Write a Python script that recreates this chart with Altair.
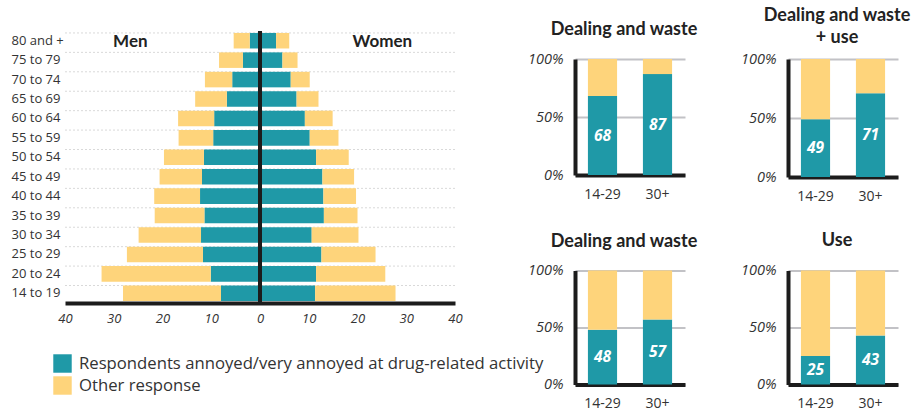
import altair as alt
import pandas as pd

# ---------------- data ----------------
ages = ["80 and +", "75 to 79", "70 to 74", "65 to 69", "60 to 64", "55 to 59",
        "50 to 54", "45 to 49", "40 to 44", "35 to 39", "30 to 34", "25 to 29",
        "20 to 24", "14 to 19"]
men_annoyed = [2.1, 3.5, 5.7, 6.8, 9.4, 9.6, 11.5, 11.9, 12.3, 11.4, 12.1, 11.7, 10.1, 8.0]
men_other = [3.3, 4.9, 5.6, 6.5, 7.4, 7.1, 8.2, 8.7, 9.4, 10.2, 12.8, 15.6, 22.4, 20.1]
women_annoyed = [3.3, 4.6, 6.3, 7.5, 9.2, 10.2, 11.5, 12.8, 13.0, 13.1, 10.6, 12.6, 11.5, 11.3]
women_other = [2.7, 3.1, 3.9, 4.5, 5.7, 5.9, 6.7, 6.5, 6.7, 6.9, 9.6, 11.1, 14.2, 16.5]
x_ticks = [-40, -30, -20, -10, 0, 10, 20, 30, 40]

panel_titles = ["Dealing and waste", ["Dealing and waste", "+ use"], "Dealing and waste", "Use"]
age_groups = ["14-29", "30+"]
panel_annoyed = [[68, 87], [49, 71], [48, 57], [25, 43]]

resp_labels = ["Respondents annoyed/very annoyed at drug-related activity", "Other response"]
colors = ["#1f99a7", "#fed47b"]
sex_labels = ["Men", "Women"]

FONT = "Open Sans"
TFONT = "Lato"
TXT = "#333333"
BLACK = "#1c1c1c"

# ---------------- pyramid ----------------
rows = []
for i, a in enumerate(ages):
    ma, mo = men_annoyed[i], men_other[i]
    wa, wo = women_annoyed[i], women_other[i]
    rows.append(dict(age=a, resp=resp_labels[0], x0=0, x1=-ma))
    rows.append(dict(age=a, resp=resp_labels[1], x0=-ma, x1=-(ma + mo)))
    rows.append(dict(age=a, resp=resp_labels[0], x0=0, x1=wa))
    rows.append(dict(age=a, resp=resp_labels[1], x0=wa, x1=wa + wo))
pyr = pd.DataFrame(rows)
grid_df = pd.DataFrame({"age": ages})
sex_df = pd.DataFrame({"sex": sex_labels, "xpos": [-26.6, 25.1], "age": [ages[0], ages[0]]})

xscale = alt.Scale(domain=[-40, 40], nice=False, padding=0)
yscale = alt.Scale(domain=ages, paddingInner=0.2, paddingOuter=0.1)
yaxis = alt.Axis(title=None, labelAlign="left", labelPadding=54, ticks=False,
                 domain=False, grid=False, labelFont=FONT, labelFontSize=13,
                 labelColor=TXT)
xaxis = alt.Axis(title=None, values=x_ticks, labelExpr="abs(datum.value)",
                 labelFontStyle="italic", labelFont=FONT, labelFontSize=13,
                 labelColor=TXT, ticks=False, grid=False, domainWidth=4,
                 domainColor=BLACK, labelPadding=9, labelFlush=False)

grid = alt.Chart(grid_df).mark_rule(color="#d9d9d9", strokeDash=[2, 2], strokeWidth=1).encode(
    y=alt.Y("age:N", scale=yscale, sort=ages, bandPosition=0, axis=yaxis)
)

bars = alt.Chart(pyr).mark_bar().encode(
    y=alt.Y("age:N", scale=yscale, sort=ages, axis=yaxis),
    x=alt.X("x0:Q", scale=xscale, axis=xaxis),
    x2="x1:Q",
    color=alt.Color("resp:N", scale=alt.Scale(domain=resp_labels, range=colors),
                    legend=alt.Legend(orient="none", legendX=-12, legendY=323, title=None,
                                      symbolType="square", symbolSize=340,
                                      symbolStrokeWidth=0, symbolOpacity=1,
                                      labelFont=FONT, labelFontSize=16.7, labelColor=TXT,
                                      labelOffset=7, rowPadding=3, labelLimit=600)),
)

center = alt.Chart(grid_df).mark_rule(color=BLACK, strokeWidth=4).encode(
    x=alt.datum(0, scale=xscale))

sex_text = alt.Chart(sex_df).mark_text(font=TFONT, fontSize=17, fontWeight="bold",
                                       color="#222222", baseline="middle", dy=1).encode(
    x=alt.X("xpos:Q", scale=xscale), y=alt.Y("age:N", scale=yscale, sort=ages), text="sex:N"
)

pyramid = alt.layer(grid, bars, center, sex_text).properties(width=390, height=272)

# ---------------- small panels ----------------
def panel(k, h, offset):
    rws, lab = [], []
    for g, v in zip(age_groups, panel_annoyed[k]):
        rws.append(dict(group=g, resp=resp_labels[0], y0=0, y1=v))
        rws.append(dict(group=g, resp=resp_labels[1], y0=v, y1=100))
        lab.append(dict(group=g, mid=v / 2, label=str(v)))
    df = pd.DataFrame(rws)
    ldf = pd.DataFrame(lab)
    xs = alt.Scale(domain=age_groups, paddingInner=0.47, paddingOuter=0.235)
    ys = alt.Scale(domain=[0, 100], nice=False)
    b = alt.Chart(df).mark_bar().encode(
        x=alt.X("group:N", scale=xs,
                axis=alt.Axis(title=None, labelAngle=0, ticks=False, domainWidth=4,
                              domainColor=BLACK, labelFont=FONT, labelFontSize=14,
                              labelColor=TXT, labelPadding=12)),
        y=alt.Y("y0:Q", scale=ys,
                axis=alt.Axis(title=None, values=[0, 50, 100], labelExpr="datum.value + '%'",
                              ticks=False, domainWidth=4, domainColor=BLACK,
                              gridColor="#c2c2c6", gridWidth=2, labelFont=FONT,
                              labelFontSize=14.5, labelFontStyle="italic", labelColor=TXT,
                              labelPadding=12)),
        y2="y1:Q",
        color=alt.Color("resp:N", scale=alt.Scale(domain=resp_labels, range=colors), legend=None),
    )
    t = alt.Chart(ldf).mark_text(font=FONT, fontSize=15.5, fontWeight="bold", fontStyle="italic",
                                 color="white", baseline="middle").encode(
        x=alt.X("group:N", scale=xs), y=alt.Y("mid:Q", scale=ys), text="label:N"
    )
    return alt.layer(b, t).properties(
        width=110, height=h,
        title=alt.TitleParams(panel_titles[k], font=TFONT, fontSize=18, fontWeight="bold",
                              color="#222222", frame="group", offset=offset, lineHeight=22,
                              dx=-6),
    )

spacer = alt.Chart(pd.DataFrame({"a": [0]})).mark_point(opacity=0).encode(
    x=alt.value(0), y=alt.value(0)).properties(width=110, height=28)

row1 = alt.hconcat(panel(0, 116, 12), panel(1, 118, 4), spacing=103, bounds="flush")
row2 = alt.hconcat(panel(2, 114, 12), panel(3, 114, 13), spacing=103, bounds="flush")
inner = alt.vconcat(row1, row2, spacing=211.5, bounds="flush")
right = alt.vconcat(spacer, inner, spacing=0, bounds="flush")

chart = alt.hconcat(pyramid, right, spacing=120, bounds="flush").resolve_scale(
    color="independent"
).configure_view(stroke=None).properties(
    padding={"left": 11, "top": 7, "right": 0, "bottom": 0}
)

chart.save("out.html", embed_options={"renderer": "svg", "actions": False})
